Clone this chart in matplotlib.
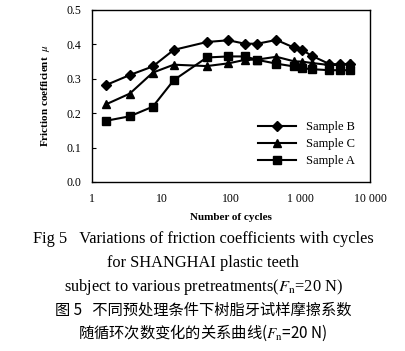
import matplotlib

matplotlib.use("Agg")

import matplotlib.pyplot as plt
import matplotlib.ticker as mticker

cycles = [1.6, 3.5, 7.5, 15, 45, 92, 158, 240, 450, 800, 1050, 1450, 2600, 3700, 5100]
sample_b = [0.282, 0.311, 0.336, 0.384, 0.407, 0.412, 0.402, 0.402, 0.413,
            0.391, 0.384, 0.367, 0.343, 0.342, 0.343]
sample_c = [0.226, 0.257, 0.318, 0.341, 0.337, 0.345, 0.355, 0.356, 0.364,
            0.351, 0.350, 0.346, 0.340, 0.340, 0.345]
sample_a = [0.178, 0.191, 0.219, 0.296, 0.362, 0.365, 0.365, 0.355, 0.344,
            0.336, 0.331, 0.328, 0.325, 0.325, 0.325]

x_ticks = [1, 10, 100, 1000, 10000]
x_labels = ["1", "10", "100", "1 000", "10 000"]
y_ticks = [0.0, 0.1, 0.2, 0.3, 0.4, 0.5]

caption_en = [
    "Fig 5   Variations of friction coefficients with cycles",
    "for SHANGHAI plastic teeth",
    "subject to various pretreatments($F_{\\rm n}$=20 N)",
]
caption_zh = [
    "图 5   不同预处理条件下树脂牙试样摩擦系数",
    "随循环次数变化的关系曲线($F_{\\rm n}$=20 N)",
]

plt.rcParams["font.family"] = ["Liberation Serif", "Noto Sans CJK SC"]
plt.rcParams["mathtext.fontset"] = "stix"

fig = plt.figure(figsize=(4.06, 3.51), dpi=100)
ax = fig.add_axes([92 / 406, 1 - 182 / 351, 278 / 406, 172 / 351])

ax.plot(cycles, sample_b, color="black", lw=1.5, marker="D", ms=5, label="Sample B")
ax.plot(cycles, sample_c, color="black", lw=1.5, marker="^", ms=6, label="Sample C")
ax.plot(cycles, sample_a, color="black", lw=1.5, marker="s", ms=6, label="Sample A")

ax.set_xscale("log")
ax.set_xlim(1, 10000)
ax.set_ylim(0, 0.5)
ax.xaxis.set_major_locator(mticker.FixedLocator(x_ticks))
ax.xaxis.set_major_formatter(mticker.FixedFormatter(x_labels))
ax.xaxis.set_minor_locator(mticker.NullLocator())
ax.set_yticks(y_ticks)
ax.yaxis.set_major_formatter(mticker.FuncFormatter(lambda v, _: f"{v:.1f}"))
ax.tick_params(axis="both", direction="in", length=3, labelsize=8.5, pad=8)
ax.tick_params(axis="x", length=0)
for s in ax.spines.values():
    s.set_linewidth(1.0)

ax.set_xlabel("Number of cycles", fontsize=8, fontweight="bold", labelpad=6)
ax.set_ylabel("Friction coefficient  $\\mu$", fontsize=8, fontweight="bold", labelpad=10)

ax.legend(loc="lower right", frameon=False, fontsize=9, handlelength=3.0,
          bbox_to_anchor=(0.985, 0.02), labelspacing=0.4)

y_pos = [239, 263, 287]
for text, y in zip(caption_en, y_pos):
    fig.text(0.5, 1 - y / 351, text, ha="center", va="center", fontsize=11.8,
             family=["Liberation Serif"])
for text, y in zip(caption_zh, [310, 333]):
    fig.text(0.5, 1 - y / 351, text, ha="center", va="center", fontsize=11,
             family=["Noto Sans CJK SC", "Liberation Serif"])

fig.savefig("out.png", dpi=100)
